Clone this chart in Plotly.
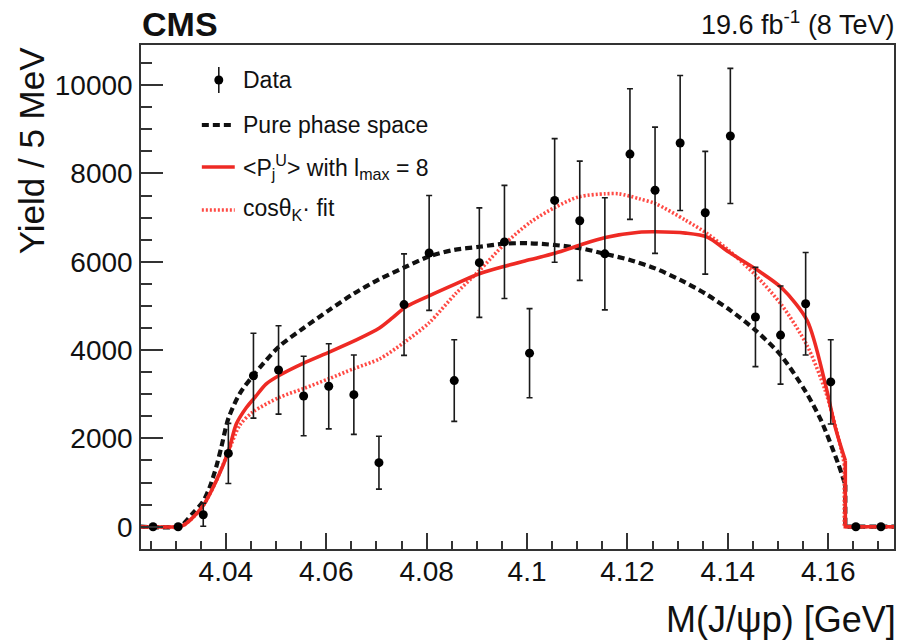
import plotly.graph_objects as go

# ---- binned J/psi p invariant-mass spectrum (5 MeV bins) ----
mass = [4.0255, 4.0305, 4.0355, 4.0405, 4.0455, 4.0505, 4.0555, 4.0605, 4.0655, 4.0705,
        4.0755, 4.0805, 4.0855, 4.0905, 4.0955, 4.1005, 4.1055, 4.1105, 4.1155, 4.1205,
        4.1255, 4.1305, 4.1355, 4.1405, 4.1455, 4.1505, 4.1555, 4.1605, 4.1655, 4.1705]
yield_data = [0, 0, 270, 1660, 3420, 3550, 2960, 3180, 2990, 1450,
              5030, 6200, 3310, 5980, 6450, 3930, 7390, 6930, 6180, 8440,
              7620, 8690, 7110, 8850, 4750, 4340, 5050, 3280, 0, 0]
yield_err = [0, 0, 260, 680, 960, 1000, 900, 965, 900, 600,
             1150, 1300, 925, 1240, 1280, 1010, 1400, 1350, 1270, 1480,
             1430, 1530, 1390, 1530, 1125, 1110, 1160, 955, 0, 0]

# ---- pure phase-space expectation ----
phase_m = [4.023, 4.0305, 4.0315, 4.0334, 4.0354, 4.0368, 4.0381, 4.0391, 4.0405, 4.0428,
           4.0455, 4.0505, 4.0555, 4.0605, 4.0655, 4.0705, 4.0755, 4.0805, 4.0855, 4.0905,
           4.0955, 4.1005, 4.1055, 4.1105, 4.1155, 4.1205, 4.1255, 4.1305, 4.1355, 4.1405,
           4.1455, 4.1505, 4.1555, 4.1586, 4.162, 4.1634]
phase_y = [0, 0, 60, 300, 560, 900, 1360, 1800, 2450, 3020,
           3430, 4070, 4500, 4900, 5280, 5600, 5870, 6120, 6270, 6340,
           6410, 6420, 6380, 6310, 6180, 6040, 5850, 5590, 5280, 4900,
           4450, 3890, 3060, 2400, 1420, 950]

# ---- <P_j^U> moments model, l_max = 8 ----
lmax_m = [4.023, 4.0304, 4.0315, 4.033, 4.0355, 4.0381, 4.0405, 4.0421, 4.0441, 4.0458,
          4.048, 4.0507, 4.0554, 4.0607, 4.066, 4.0706, 4.0733, 4.0759, 4.0805, 4.0858,
          4.0905, 4.0956, 4.1007, 4.1057, 4.1103, 4.1156, 4.1223, 4.1256, 4.1316, 4.1359,
          4.1402, 4.1455, 4.1508, 4.1558, 4.1594, 4.1614, 4.1634]
lmax_y = [0, 0, 30, 160, 480, 1040, 1700, 2330, 2700, 2930,
          3230, 3430, 3700, 3960, 4230, 4500, 4740, 4980, 5230, 5500,
          5730, 5900, 6050, 6200, 6370, 6550, 6670, 6680, 6650, 6560,
          6220, 5840, 5400, 4670, 3240, 2250, 1500]

# ---- cos(theta_K) fit ----
cosk_m = [4.023, 4.0304, 4.0315, 4.033, 4.0355, 4.0381, 4.0405, 4.0428, 4.0454, 4.0507,
          4.0555, 4.0605, 4.0655, 4.0706, 4.0756, 4.0805, 4.0858, 4.0905, 4.0956, 4.1007,
          4.1057, 4.1103, 4.1156, 4.1183, 4.1223, 4.1256, 4.1316, 4.1359, 4.1402, 4.1455,
          4.1508, 4.1558, 4.1594, 4.162, 4.1632]
cosk_y = [0, 0, 30, 160, 480, 1040, 1700, 2300, 2600, 2930,
          3130, 3350, 3580, 3800, 4180, 4620, 5280, 5800, 6410, 6900,
          7240, 7470, 7540, 7540, 7430, 7317, 6940, 6637, 6259, 5700,
          5010, 4100, 3084, 2025, 1428]

X_RANGE = [4.0231, 4.1731]
Y_RANGE = [-505, 10910]
X_TICKS = [4.04, 4.06, 4.08, 4.10, 4.12, 4.14, 4.16]
X_TICK_TEXT = ["4.04", "4.06", "4.08", "4.1", "4.12", "4.14", "4.16"]
Y_TICKS = [0, 2000, 4000, 6000, 8000, 10000]

BLACK = "#111111"
RED = "#ee2a24"
RED_DOT = "#ff4a44"
FONT = "Liberation Sans, Arial, Helvetica, sans-serif"

# plot-area geometry in pixels (used for the hand-drawn legend)
W, H = 902, 642
L, R, T, B = 141, 6, 45, 93
PW, PH = W - L - R, H - T - B


def px(x):
    return (x - L) / PW


def py(y):
    return (H - B - y) / PH


fig = go.Figure()


def add_curve(xs, ys, color, width, dash):
    # smooth body of the curve
    fig.add_trace(go.Scatter(x=xs, y=ys, mode="lines", showlegend=False, hoverinfo="skip",
                             line=dict(color=color, width=width, dash=dash,
                                       shape="spline", smoothing=0.8)))
    # kinematic endpoint: vertical drop and flat tail
    fig.add_trace(go.Scatter(x=[xs[-1], xs[-1], X_RANGE[1]], y=[ys[-1], 0, 0], mode="lines",
                             showlegend=False, hoverinfo="skip",
                             line=dict(color=color, width=width, dash=dash)))


add_curve(phase_m, phase_y, BLACK, 4.2, "7px,4px")
add_curve(cosk_m, cosk_y, RED_DOT, 3.6, "2px,2px")
add_curve(lmax_m, lmax_y, RED, 3.6, "solid")

fig.add_trace(go.Scatter(
    x=mass, y=yield_data, mode="markers", showlegend=False,
    marker=dict(color="black", size=9),
    error_y=dict(type="data", array=yield_err, visible=True,
                 color="#1a1a1a", thickness=1.6, width=3),
))

axis_common = dict(
    showline=True, linecolor="#333333", linewidth=1.5, mirror=True,
    ticks="inside", tickcolor="#333333", tickwidth=1.5,
    showgrid=False, zeroline=False,
    tickfont=dict(family=FONT, size=28, color="#111111"),
)

fig.update_xaxes(range=X_RANGE, tickmode="array", tickvals=X_TICKS, ticktext=X_TICK_TEXT,
                 ticklen=16, ticklabelstandoff=-3,
                 minor=dict(dtick=0.005, tick0=4.04, ticks="inside", ticklen=8,
                            tickcolor="#333333", tickwidth=1.5, showgrid=False),
                 **axis_common)
fig.update_yaxes(range=Y_RANGE, tickmode="array", tickvals=Y_TICKS, tickformat="d",
                 ticklen=22, ticklabelstandoff=1,
                 minor=dict(dtick=500, tick0=0, ticks="inside", ticklen=11,
                            tickcolor="#333333", tickwidth=1.5, showgrid=False),
                 **axis_common)

shapes = []
annotations = []

# legend: data marker with error bar
shapes.append(dict(type="line", xref="paper", yref="paper",
                   x0=px(219), x1=px(219), y0=py(67), y1=py(93),
                   line=dict(color="#1a1a1a", width=1.6)))
shapes.append(dict(type="circle", xref="paper", yref="paper",
                   x0=px(214.5), x1=px(223.5), y0=py(75.5), y1=py(84.5),
                   fillcolor="black", line=dict(color="black", width=0)))
# legend: line samples
for yy, color, width, dash in [(125, BLACK, 4.2, "7px,4px"),
                               (167, RED, 3.6, "solid"),
                               (210, RED_DOT, 3.6, "2px,2px")]:
    shapes.append(dict(type="line", xref="paper", yref="paper",
                       x0=px(202), x1=px(235), y0=py(yy), y1=py(yy),
                       line=dict(color=color, width=width, dash=dash)))

legend_text = [
    (80, "Data"),
    (125, "Pure phase space"),
    (167, "&lt;P<sub>j</sub><sup>U</sup>&gt; with l<sub>max</sub> = 8"),
    (210, "cosθ<sub>K</sub>· fit"),
]
for yy, txt in legend_text:
    annotations.append(dict(xref="paper", yref="paper", x=px(241), y=py(yy),
                            xanchor="left", yanchor="middle", text=txt, showarrow=False,
                            font=dict(family=FONT, size=23, color="#111111")))

# header labels
annotations.append(dict(xref="paper", yref="paper", x=px(140), y=py(24),
                        xanchor="left", yanchor="middle", text="<b>CMS</b>", showarrow=False,
                        font=dict(family=FONT, size=34, color="#111111")))
annotations.append(dict(xref="paper", yref="paper", x=px(898), y=py(23),
                        xanchor="right", yanchor="middle",
                        text="19.6 fb<sup>-1</sup> (8 TeV)", showarrow=False,
                        font=dict(family=FONT, size=27, color="#111111")))

# axis titles
annotations.append(dict(xref="paper", yref="paper", x=px(900), y=py(619),
                        xanchor="right", yanchor="middle",
                        text="M(J/ψp) [GeV]", showarrow=False,
                        font=dict(family=FONT, size=36, color="#111111")))
annotations.append(dict(xref="paper", yref="paper", x=px(31), y=py(44),
                        xanchor="center", yanchor="top", textangle=-90,
                        text="Yield / 5 MeV", showarrow=False,
                        font=dict(family=FONT, size=35, color="#111111")))

fig.update_layout(
    width=W, height=H,
    margin=dict(l=L, r=R, t=T, b=B),
    paper_bgcolor="white", plot_bgcolor="white",
    showlegend=False,
    shapes=shapes, annotations=annotations,
)

fig.write_html("out.html")
